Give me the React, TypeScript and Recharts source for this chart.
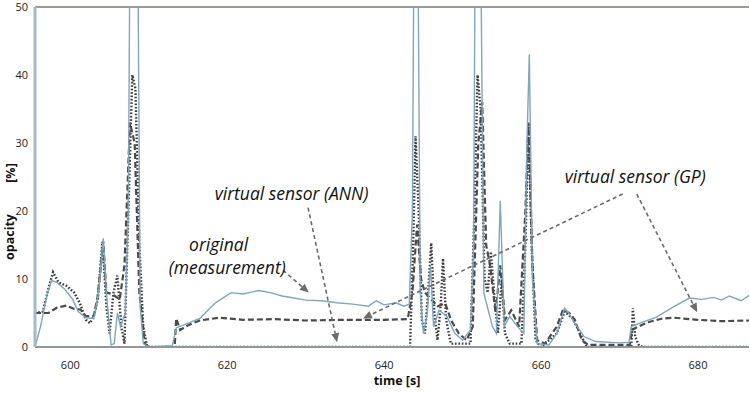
import { LineChart, Line, XAxis, YAxis, ReferenceLine, ReferenceDot } from 'recharts';

// original (measurement)
const measT = [595.5, 596.2, 597.0, 597.6, 598.3, 599.3, 600.3, 601.0, 602.0, 603.0, 603.6, 604.2, 604.6, 605.2, 605.6, 606.0, 606.4, 607.0, 607.4, 607.6, 608.6, 608.9, 609.3, 610.0, 613.0, 613.5, 615.0, 616.5, 618.5, 620.5, 622.0, 624.0, 625.5, 627.0, 628.5, 630.0, 632.0, 634.0, 636.0, 638.0, 639.0, 640.0, 641.5, 642.5, 643.2, 643.6, 643.8, 644.3, 644.6, 645.0, 645.5, 645.9, 646.3, 647.0, 648.0, 649.0, 650.0, 651.0, 651.4, 651.6, 652.3, 652.7, 653.2, 653.8, 654.3, 654.8, 655.3, 656.0, 657.0, 657.8, 658.2, 658.5, 658.9, 659.5, 661.0, 662.0, 663.0, 663.5, 664.3, 665.5, 667.0, 670.0, 671.2, 671.5, 673.0, 674.7, 676.7, 678.9, 680.5, 682.0, 683.0, 684.0, 685.5, 686.5];
const measV = [0, 3, 7.5, 9.8, 9.5, 8.5, 7, 5.2, 4.3, 4.2, 8, 16, 8, 0.3, 0.5, 5, 3, 5, 20, 60, 60, 6, 0.5, 0, 0.2, 2.8, 3.5, 4.2, 6.5, 8, 7.8, 8.3, 8, 7.5, 7.2, 6.9, 6.8, 6.5, 6.3, 6.0, 6.8, 6.2, 6.5, 6.0, 6.3, 20, 60, 60, 8, 2, 5, 12, 3, 5.4, 4.5, 2, 1, 2.5, 15, 60, 60, 8, 5.7, 3, 2, 21.5, 3, 4.5, 3, 2, 30, 43, 10, 0.5, 0.3, 2, 5.7, 5, 3.5, 1.5, 0.8, 0.6, 0.7, 3, 3.7, 4.4, 5.8, 7.2, 7.0, 7.3, 6.9, 7.5, 6.8, 7.6];

// virtual sensor (GP)
const gpT = [595.5, 597.2, 598.3, 599.5, 600.5, 601.3, 602.0, 603.0, 603.5, 604.2, 604.6, 605.3, 606.3, 606.9, 607.6, 608.2, 608.8, 609.5, 610.0, 613.3, 613.5, 614.0, 615.0, 616.5, 619.0, 622.0, 626.0, 630.0, 635.0, 640.0, 643.0, 643.6, 644.2, 644.7, 645.2, 646.0, 646.8, 647.8, 648.5, 649.5, 650.5, 651.3, 652.0, 652.5, 653.0, 653.5, 654.2, 654.8, 655.4, 656.2, 657.2, 658.0, 658.4, 658.9, 659.5, 660.5, 662.0, 662.8, 663.6, 664.3, 665.2, 666.0, 671.3, 671.6, 672.2, 673.5, 675.5, 677.0, 680.0, 683.0, 686.5];
const gpV = [5, 5, 5.8, 6.1, 5.6, 5.5, 4.5, 4.6, 7.5, 15.5, 8, 7.8, 7, 12, 33, 30, 8, 0.5, 0, 0, 4.2, 2.5, 3.2, 3.9, 4.3, 4.0, 4.1, 3.9, 4.0, 4.0, 4.1, 8, 18, 10, 8, 7, 6, 6.4, 4, 2, 1, 3, 30, 36, 15, 12, 5, 12, 4, 5.4, 3, 20, 33, 12, 1, 0.5, 3, 5.5, 5, 4, 1, 0.3, 0.3, 2.5, 2.9, 3.6, 4.2, 4.3, 4.0, 3.8, 3.9];

// virtual sensor (ANN)
const annT = [595.5, 596.5, 597.3, 597.8, 598.5, 599.5, 600.5, 601.2, 602.0, 602.5, 603.0, 603.5, 604.1, 604.6, 605.0, 605.5, 606.0, 606.5, 606.9, 607.4, 607.9, 608.3, 608.8, 609.3, 609.8, 643.3, 643.7, 644.0, 644.4, 644.8, 645.2, 645.6, 646.0, 646.4, 646.8, 647.2, 647.5, 647.9, 648.5, 651.0, 651.5, 651.9, 652.3, 652.8, 653.2, 653.6, 654.0, 654.5, 655.0, 655.4, 656.0, 657.5, 658.0, 658.4, 658.8, 659.3, 660.0, 662.0, 663.0, 664.0, 665.0, 665.8, 671.5, 671.7, 672.0, 672.5, 673.0, 686.5];
const annV = [5, 5.2, 9, 11, 9.5, 9, 8, 6.5, 4, 3.5, 4.5, 7, 15.5, 6, 2, 8, 10.5, 3, 0.5, 20, 40, 38, 15, 3, 0, 0, 15, 31, 20, 4, 2, 8, 15.3, 5, 1, 6, 13, 4, 0.5, 0.5, 20, 40, 35, 10, 8, 14, 8, 2, 10, 2, 0.5, 0.5, 15, 33, 15, 1, 0, 2, 5.2, 4.2, 2, 0, 0, 5.7, 1.5, 0.2, 0, 0];

const xTicks = [600, 620, 640, 660, 680];
const xMinor = [600, 610, 620, 630, 640, 650, 660, 670, 680];
const yTicks = [0, 5, 10, 15, 20, 25, 30, 35, 40, 45, 50];

const toRows = (ts: number[], vs: number[]) => ts.map((t, i) => ({ t, v: vs[i] }));
const measData = toRows(measT, measV);
const gpData = toRows(gpT, gpV);
const annData = toRows(annT, annV);

const FONT = '"Open Sans", sans-serif';

const Arrow = (p: any) => {
  const { x1, y1, x2, y2 } = p;
  const a = Math.atan2(y2 - y1, x2 - x1);
  const L = 9, W = 4;
  const bx = x2 - L * Math.cos(a), by = y2 - L * Math.sin(a);
  const nx = -Math.sin(a) * W, ny = Math.cos(a) * W;
  return (
    <g>
      <line x1={x1} y1={y1} x2={bx} y2={by} stroke="#6b6b6b" strokeWidth={1.6} strokeDasharray="4 3" />
      <polygon points={`${x2},${y2} ${bx + nx},${by + ny} ${bx - nx},${by - ny}`} fill="#6b6b6b" />
    </g>
  );
};

const note = (text: string) => (p: any) => (
  <text x={p.cx} y={p.cy} textAnchor="middle" dominantBaseline="central" fontFamily={FONT} fontStyle="italic" fontSize={17.5} fill="#111">
    {text}
  </text>
);

export default function App() {
  return (
    <div style={{ position: 'absolute', left: 0, top: 0, width: 750, height: 393, background: '#fff' }}>
      <LineChart width={750} height={393} data={measData} margin={{ top: 7, right: 1, bottom: 0, left: 0 }}>
        <XAxis dataKey="t" type="number" domain={[595.5, 686.5]} allowDataOverflow ticks={xTicks} tickLine={false} tickSize={0} tickMargin={14} height={46}
          axisLine={{ stroke: '#8d979c', strokeWidth: 2 }} tick={{ fill: '#222', fontSize: 11, fontFamily: FONT }} />
        <XAxis xAxisId="bm" dataKey="t" type="number" domain={[595.5, 686.5]} allowDataOverflow ticks={xMinor} mirror tickSize={5} axisLine={false}
          tickLine={{ stroke: '#9fb6c4' }} tickFormatter={() => ''} height={0} />
        <XAxis xAxisId="top" orientation="top" dataKey="t" type="number" domain={[595.5, 686.5]} allowDataOverflow ticks={xMinor} mirror tickSize={4} height={0}
          axisLine={false} tickLine={{ stroke: '#9fb6c4' }} tickFormatter={() => ''} />
        <YAxis type="number" domain={[0, 50]} allowDataOverflow ticks={yTicks} width={35} tickLine={false} tickSize={0} tickMargin={7}
          tickFormatter={(v: number) => (v % 10 === 0 ? String(v) : '')}
          axisLine={{ stroke: '#a4bac6', strokeWidth: 3 }} tick={{ fill: '#222', fontSize: 11, fontFamily: FONT }} />
        <YAxis yAxisId="lm" type="number" domain={[0, 50]} ticks={yTicks} mirror width={0} tickSize={5} axisLine={false}
          tickLine={{ stroke: '#555' }} tickFormatter={() => ''} />
        <YAxis yAxisId="rm" orientation="right" type="number" domain={[0, 50]} ticks={yTicks} mirror width={0} tickSize={5} axisLine={false}
          tickLine={{ stroke: '#b5c2c8' }} tickFormatter={() => ''} />

        <ReferenceLine y={50} stroke="#7d7872" strokeWidth={1.6} />

        <Line data={annData} dataKey="v" type="linear" stroke="#3c3c3c" strokeWidth={2.4} strokeDasharray="1.6 1.8" dot={false} isAnimationActive={false} />
        <Line data={gpData} dataKey="v" type="linear" stroke="#4a4a4a" strokeWidth={2.2} strokeDasharray="6 3" dot={false} isAnimationActive={false} />
        <Line data={measData} dataKey="v" type="linear" stroke="#7ea6bd" strokeWidth={1.4} dot={false} isAnimationActive={false} />

        <ReferenceLine segment={[{ x: 630.3, y: 20.5 }, { x: 634.0, y: 0.7 }]} shape={Arrow} ifOverflow="visible" />
        <ReferenceLine segment={[{ x: 627.1, y: 11.3 }, { x: 630.4, y: 8.0 }]} shape={Arrow} ifOverflow="visible" />
        <ReferenceLine segment={[{ x: 670.4, y: 22.5 }, { x: 637.3, y: 4.2 }]} shape={Arrow} ifOverflow="visible" />
        <ReferenceLine segment={[{ x: 672.2, y: 22.5 }, { x: 679.9, y: 5.1 }]} shape={Arrow} ifOverflow="visible" />

        <ReferenceDot x={628.2} y={22.7} r={0} shape={note('virtual sensor (ANN)')} />
        <ReferenceDot x={618.9} y={15.2} r={0} shape={note('original')} />
        <ReferenceDot x={620.0} y={11.7} r={0} shape={note('(measurement)')} />
        <ReferenceDot x={672.0} y={25.1} r={0} shape={note('virtual sensor (GP)')} />
      </LineChart>
      <div style={{ position: 'absolute', left: 397, top: 381, transform: 'translate(-50%,-50%)', fontFamily: FONT, fontWeight: 700, fontSize: 12.5, lineHeight: '14px', color: '#111', whiteSpace: 'nowrap' }}>time [s]</div>
      <div style={{ position: 'absolute', left: 10, top: 237, transform: 'translate(-50%,-50%) rotate(-90deg)', fontFamily: FONT, fontWeight: 700, fontSize: 12.5, lineHeight: '14px', color: '#111', whiteSpace: 'nowrap' }}>opacity</div>
      <div style={{ position: 'absolute', left: 11, top: 173, transform: 'translate(-50%,-50%) rotate(-90deg)', fontFamily: FONT, fontWeight: 700, fontSize: 12.5, lineHeight: '14px', color: '#111', whiteSpace: 'nowrap' }}>[%]</div>
    </div>
  );
}
